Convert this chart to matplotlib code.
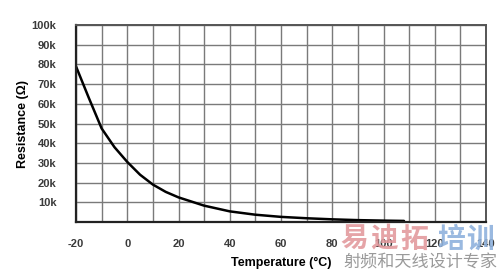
import matplotlib.pyplot as plt
import numpy as np

# thermistor curve
temp = [-20, -15, -10, -5, 0, 5, 10, 15, 20, 30, 40, 50, 60, 70, 80, 90, 100, 108]
res = [79000, 63000, 47500, 38000, 30500, 24000, 19000, 15300, 12500, 8300, 5400,
       3700, 2600, 1900, 1350, 950, 700, 550]

xticks = [-20, 0, 20, 40, 60, 80, 100, 120, 140]
yticks = [10000, 20000, 30000, 40000, 50000, 60000, 70000, 80000, 90000, 100000]
ylabels = ['10k', '20k', '30k', '40k', '50k', '60k', '70k', '80k', '90k', '100k']

plt.rcParams['font.family'] = ['Liberation Sans', 'DejaVu Sans']
plt.rcParams['axes.unicode_minus'] = False

fig = plt.figure(figsize=(4.98, 2.74), dpi=100)
ax = fig.add_axes([76 / 498, 1 - 222 / 274, 410 / 498, 197 / 274])

ax.plot(temp, res, color='black', lw=1.8, solid_capstyle='round')
ax.set_xlim(-20, 140)
ax.set_ylim(0, 100000)
ax.set_xticks(xticks)
ax.set_xticks(np.arange(-10, 141, 20), minor=True)
ax.set_yticks(yticks)
ax.set_yticklabels(ylabels)
ax.grid(True, which='both', color='#7a7a7a', lw=1.0)
ax.set_axisbelow(True)

ax.tick_params(axis='both', which='both', length=0, labelsize=8, colors='#3a3a3a')
ax.tick_params(axis='y', pad=14)
ax.tick_params(axis='x', pad=12)
for t in ax.get_xticklabels() + ax.get_yticklabels():
    t.set_fontweight('bold')

for s in ['left', 'bottom']:
    ax.spines[s].set_linewidth(1.6)
    ax.spines[s].set_color('#222222')
for s in ['top', 'right']:
    ax.spines[s].set_linewidth(1.4)
    ax.spines[s].set_color('#555555')

ax.set_ylabel('Resistance (\u03a9)', fontsize=9, fontweight='bold')
ax.yaxis.set_label_coords(-0.115, 0.5)
fig.text(281 / 498, 1 - 263 / 274, 'Temperature (\u00b0C)', ha='center', va='center',
         fontsize=9, fontweight='bold')

# watermark
wm_top = ['易', '迪', '拓', '培', '训']
wm_x = [340, 370, 400, 437, 466]
wm_col = ['#e39a9e', '#e39a9e', '#e39a9e', '#8fb2dd', '#8fb2dd']
for ch, x, c in zip(wm_top, wm_x, wm_col):
    fig.text(x / 498, 1 - 240 / 274, ch, fontsize=20, fontweight='bold', color=c,
             family=['Noto Sans CJK SC'], va='center', ha='left', alpha=0.9)
fig.text(343 / 498, 1 - 263 / 274, '射频和天线设计专家', fontsize=12.3,
         color='#9a9a9a', family=['Noto Sans CJK SC'], va='center', ha='left')

fig.savefig('out.png', dpi=100)
